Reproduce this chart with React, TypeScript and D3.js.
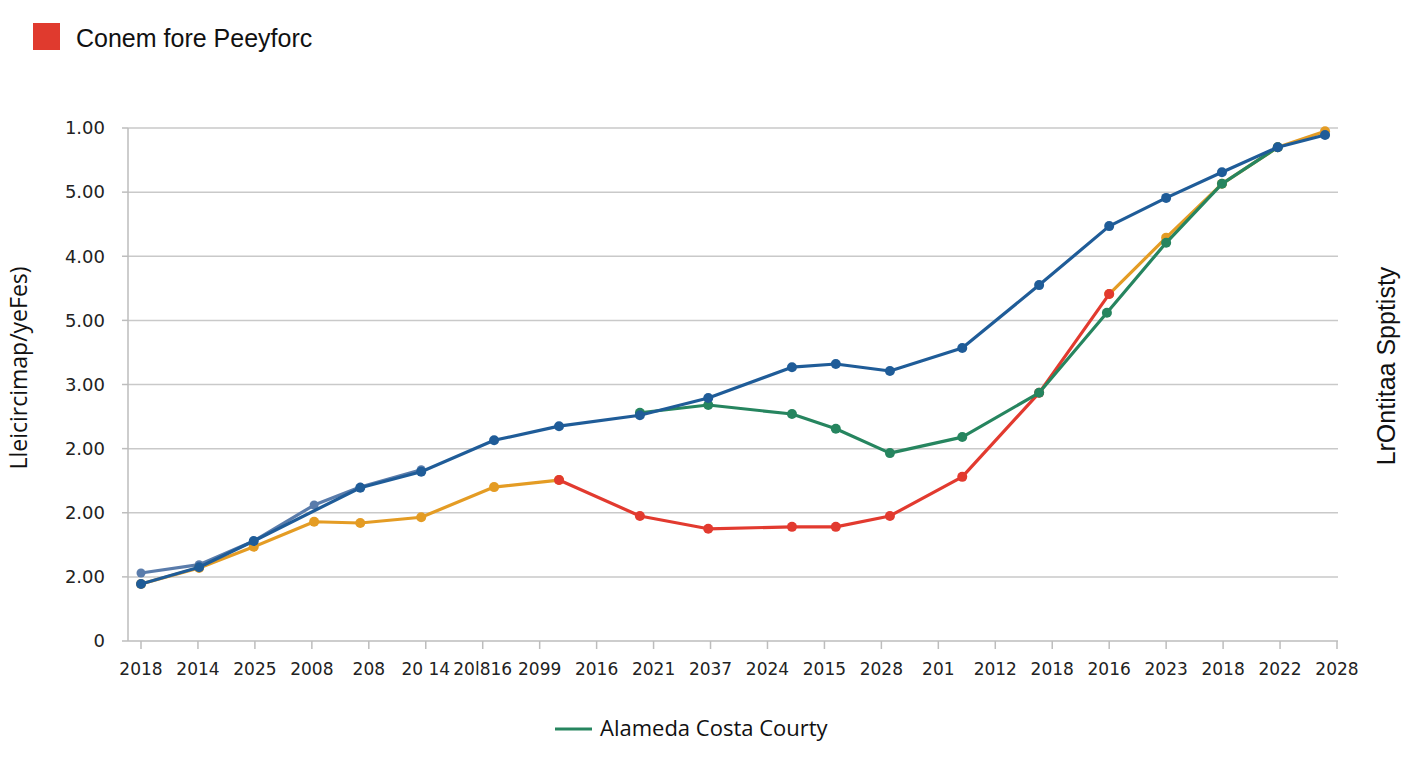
import * as d3 from 'd3';

// x categories (tick labels) along the bottom
const xLabels = [
  '2018', '2014', '2025', '2008', '208', '20 14', '20l816', '2099', '2016', '2021', '2037',
  '2024', '2015', '2028', '201', '2012', '2018', '2016', '2023', '2018', '2022', '2028',
];

// y gridline labels, bottom to top
const yLabels = ['0', '2.00', '2.00', '2.00', '3.00', '5.00', '4.00', '5.00', '1.00'];

// points as [category position, value in gridline units]
const darkBlue: [number, number][] = [
  [0, 0.89], [1.02, 1.15], [1.98, 1.56], [3.85, 2.39], [4.92, 2.64], [6.2, 3.13], [7.34, 3.35],
  [8.76, 3.52], [9.96, 3.79], [11.43, 4.27], [12.2, 4.32], [13.15, 4.21], [14.42, 4.57],
  [15.77, 5.55], [17.0, 6.47], [18.0, 6.91], [18.98, 7.31], [19.96, 7.7], [20.79, 7.89],
];
const steelBlue: [number, number][] = [
  [0, 1.06], [1.02, 1.19], [1.98, 1.56], [3.04, 2.12], [3.85, 2.4], [4.92, 2.67],
];
const orangeEarly: [number, number][] = [
  [0, 0.89], [1.02, 1.14], [1.98, 1.47], [3.04, 1.86], [3.85, 1.84], [4.92, 1.93], [6.2, 2.4],
  [7.34, 2.51],
];
const orangeLate: [number, number][] = [
  [17.0, 5.41], [18.0, 6.29], [18.98, 7.13], [19.96, 7.7], [20.79, 7.95],
];
const red: [number, number][] = [
  [7.34, 2.51], [8.76, 1.95], [9.96, 1.75], [11.43, 1.78], [12.2, 1.78], [13.15, 1.95],
  [14.42, 2.56], [15.77, 3.87], [17.0, 5.41],
];
const green: [number, number][] = [
  [8.76, 3.56], [9.96, 3.68], [11.43, 3.54], [12.2, 3.31], [13.15, 2.93], [14.42, 3.18],
  [15.77, 3.87], [16.96, 5.12], [18.0, 6.21], [18.98, 7.13], [19.96, 7.7],
];

const series = [
  { name: 'steel', data: steelBlue, color: '#5a7cab', r: 4.5 },
  { name: 'orangeEarly', data: orangeEarly, color: '#e49c24', r: 5 },
  { name: 'orangeLate', data: orangeLate, color: '#e49c24', r: 5 },
  { name: 'red', data: red, color: '#e23a2f', r: 5 },
  { name: 'green', data: green, color: '#26855f', r: 5 },
  { name: 'blue', data: darkBlue, color: '#1f5c98', r: 5 },
];

const topLegend = 'Conem fore Peeyforc';
const bottomLegend = 'Alameda Costa Courty';
const yTitle = 'Lleicircimap/yeFes)';
const rightTitle = 'LrOntitaa Spptisty';

export default function App() {
  const width = 1408;
  const height = 768;
  const plot = { left: 128, right: 1338, top: 128, bottom: 641 };

  const x = d3.scaleLinear().domain([0, xLabels.length - 1]).range([141, 1337]);
  const y = d3.scaleLinear().domain([0, yLabels.length - 1]).range([plot.bottom, plot.top]);

  const line = d3.line<[number, number]>()
    .x(d => x(d[0]))
    .y(d => y(d[1]))
    .curve(d3.curveLinear);

  return (
    <svg width={width} height={height} style={{ position: 'absolute', left: 0, top: 0, background: '#fff' }}>
      {/* top legend */}
      <rect x={33} y={23} width={27} height={27} fill="#e03a2e" />
      <text x={76} y={47} fontFamily="Liberation Sans, Arial, sans-serif" fontSize={25} fill="#111">{topLegend}</text>

      {/* grid */}
      {yLabels.map((lab, i) => (
        <g key={'y' + i}>
          {i > 0 && (
            <line x1={plot.left} x2={plot.right} y1={y(i)} y2={y(i)} stroke="#c9c9c9" strokeWidth={1.5} />
          )}
          <line x1={plot.left - 6} x2={plot.left} y1={y(i)} y2={y(i)} stroke="#bdbdbd" strokeWidth={1.5} />
          <text x={105} y={y(i)} dy="0.35em" textAnchor="end" fontFamily="DejaVu Sans, sans-serif" fontSize={18} fill="#222">{lab}</text>
        </g>
      ))}

      {/* axes */}
      <line x1={plot.left} x2={plot.left} y1={plot.top} y2={plot.bottom} stroke="#bdbdbd" strokeWidth={1.5} />
      <line x1={plot.left} x2={plot.right} y1={plot.bottom} y2={plot.bottom} stroke="#bdbdbd" strokeWidth={1.5} />
      {xLabels.map((lab, i) => (
        <g key={'x' + i}>
          <line x1={x(i)} x2={x(i)} y1={plot.bottom} y2={plot.bottom + 8} stroke="#bdbdbd" strokeWidth={1.5} />
          <text x={x(i)} y={675} textAnchor="middle" fontFamily="DejaVu Sans, sans-serif" fontSize={17} fill="#222">{lab}</text>
        </g>
      ))}

      {/* series */}
      {series.map(s => (
        <g key={s.name}>
          <path d={line(s.data) ?? ''} fill="none" stroke={s.color} strokeWidth={3.2} strokeLinejoin="round" strokeLinecap="round" />
          {s.data.map((d, i) => (
            <circle key={i} cx={x(d[0])} cy={y(d[1])} r={s.r} fill={s.color} />
          ))}
        </g>
      ))}

      {/* axis titles */}
      <text transform={`translate(27,368) rotate(-90)`} textAnchor="middle" fontFamily="Open Sans, sans-serif" fontSize={23} fill="#111">{yTitle}</text>
      <text transform={`translate(1395,366) rotate(-90)`} textAnchor="middle" fontFamily="Liberation Sans, Arial, sans-serif" fontSize={25} fill="#111">{rightTitle}</text>

      {/* bottom legend */}
      <line x1={555} x2={592} y1={729} y2={729} stroke="#26855f" strokeWidth={3} />
      <text x={600} y={736} fontFamily="Open Sans, sans-serif" fontSize={22} fill="#111">{bottomLegend}</text>
    </svg>
  );
}
